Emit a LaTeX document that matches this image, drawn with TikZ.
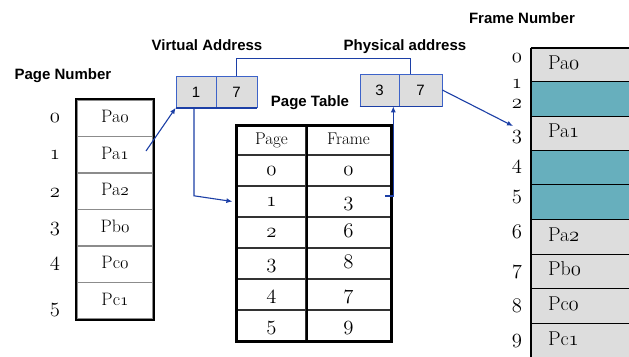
\documentclass[tikz,border=0pt]{standalone}
\usepackage{fontspec}
\newfontfamily\arial{Liberation Sans}
\usetikzlibrary{arrows.meta}
\definecolor{cellgray}{HTML}{DDDDDD}
\definecolor{freeteal}{HTML}{67AFBD}
\definecolor{linkblue}{HTML}{1C3FA6}
\definecolor{boxblue}{HTML}{3D63C9}
% old-style digits from Latin Modern math italic (regular and bold)
\newcommand\osd[1]{{\usefont{OML}{lmm}{m}{it}#1}}
\newcommand\osb[1]{{\usefont{OML}{lmm}{b}{it}#1}}
\newcommand\rowstrut{\vphantom{Pg}}
\begin{document}
\begin{tikzpicture}[x=1pt,y=-1pt,
  lbl/.style={font=\arial\bfseries\fontsize{15}{18}\selectfont, inner sep=0pt},
  lcell/.style={draw=black!45, line width=1.5pt, minimum width=76pt, minimum height=36.5pt, inner sep=0pt, font=\fontsize{18}{20}\selectfont},
  rowno/.style={anchor=base, inner sep=0pt, font=\fontsize{21}{24}\selectfont},
  tcell/.style={draw=black!80, line width=1.2pt, minimum height=31pt, inner sep=0pt, font=\fontsize{20}{22}\selectfont},
  thead/.style={tcell, minimum height=29pt, font=\fontsize{17}{20}\selectfont},
  addr/.style={draw=boxblue, fill=cellgray, line width=0.6pt, minimum height=31pt, inner sep=0pt, font=\arial\fontsize{15}{18}\selectfont},
  fcell/.style={draw=black, line width=0.8pt, fill=cellgray, text width=75pt, inner xsep=17pt, inner ysep=0pt, align=left, font=\fontsize{20}{22}\selectfont},
  free/.style={fcell, fill=freeteal},
  frameno/.style={anchor=base, inner sep=0pt, font=\fontsize{20}{22}\selectfont},
  link/.style={draw=linkblue, line width=1.1pt},
  arr/.style={link, -{Latex[length=6pt,width=5pt]}}
]
\useasboundingbox (0,0) rectangle (629,356);
\clip (0,0) rectangle (629,356);
\fill[white] (0,0) rectangle (629,356);

% ---- logical pages of the processes ----
\node[lbl] (pn) at (63,76) {Page Number};
\node[lcell] (L0) at (115,118.25) {\rowstrut Pa\osd{0}};
\node[lcell] (L1) at (115,154.75) {\rowstrut Pa\osd{1}};
\node[lcell] (L2) at (115,191.25) {\rowstrut Pa\osd{2}};
\node[lcell] (L3) at (115,227.75) {\rowstrut Pb\osd{0}};
\node[lcell] (L4) at (115,264.25) {\rowstrut Pc\osd{0}};
\node[lcell] (L5) at (115,300.75) {\rowstrut Pc\osd{1}};
\draw[line width=2pt] (L0.north west) rectangle (L5.south east);
\node[rowno] (n0) at (55,122) {\osb{0}};
\node[rowno] (n1) at (55,159) {\osb{1}};
\node[rowno] (n2) at (55,197) {\osb{2}};
\node[rowno] (n3) at (55,231) {\osb{3}};
\node[rowno] (n4) at (55,266) {\osb{4}};
\node[rowno] (n5) at (55,312) {\osb{5}};

% ---- virtual address ----
\node[lbl] (vlab) at (207,45) {Virtual Address};
\node[addr, minimum width=40pt] (V1) at (196,92) {1};
\node[addr, minimum width=41pt] (V2) at (236.5,92) {7};
\draw[linkblue, line width=1.6pt] (V1.south west) -- (V2.south east);

% ---- physical address ----
\node[lbl] (plab) at (405,47) {Physical address};
\node[addr, minimum width=39pt, minimum height=32pt] (P1) at (379.5,90) {3};
\node[addr, minimum width=43pt, minimum height=32pt] (P2) at (420.5,90) {7};
\draw[linkblue, line width=1.6pt] (P1.south west) -- (P2.south east);

% ---- page table ----
\node[lbl] (ptlab) at (310,103) {Page Table};
\node[thead, minimum width=69pt] (hP) at (271.5,140.5) {\rowstrut Page};
\node[thead, minimum width=85pt] (hF) at (348.5,140.5) {\rowstrut Frame};
\foreach \i/\f/\y in {0/0/170.5, 1/3/201.5, 2/6/232.5, 3/8/263.5, 4/7/294.5, 5/9/325.5} {
  \node[tcell, minimum width=69pt] (tp\i) at (271.5,\y) {\rowstrut\osb{\i}};
  \node[tcell, minimum width=85pt] (tf\i) at (348.5,\y) {\rowstrut\osd{\f}};
}
\draw[line width=2.5pt] (hP.north west) rectangle (tf5.south east);
\draw[line width=2pt] (hP.north east) -- (tp5.south east);

% ---- physical memory frames ----
\node[lbl] (fn) at (522,18) {Frame Number};
\node[fcell, minimum height=33pt] (R0) at (585.5,64.5) {\rowstrut Pa\osd{0}};
\node[free, minimum height=35pt] (R12) at (585.5,98.5) {};
\node[fcell, minimum height=34pt] (R3) at (585.5,133) {\rowstrut Pa\osd{1}};
\node[free, minimum height=34pt] (R4) at (585.5,167) {};
\node[free, minimum height=35pt] (R5) at (585.5,201.5) {};
\node[fcell, minimum height=35pt] (R6) at (585.5,236.5) {\rowstrut Pa\osd{2}};
\node[fcell, minimum height=34pt] (R7) at (585.5,271) {\rowstrut Pb\osd{0}};
\node[fcell, minimum height=35pt] (R8) at (585.5,305.5) {\rowstrut Pc\osd{0}};
\node[fcell, minimum height=35pt] (R9) at (585.5,340.5) {\rowstrut Pc\osd{1}};
\draw[line width=2pt] (R0.north west) -- (R9.south west);
\draw[line width=1.5pt] (R0.north west) -- (R0.north east);
\foreach \k/\b in {0/62,1/88,2/108,3/139,4/169,5/199,6/238,7/274,8/312,9/343}
  \node[frameno] (N\k) at (517,\b) {\osb{\k}};

% ---- translation path ----
\coordinate (pa1tip) at (146,151);
\coordinate (f1tip) at (385,196);
\draw[arr] (pa1tip) -- (V1.south west);
\draw[link] (V2.north) -- ++(0,-18) -| ([xshift=-10pt]P2.north);
\draw[arr] ([xshift=-2pt]V1.south) -- ++(0,88) -- ([xshift=-4pt]tp1.west);
\draw[arr] (f1tip) -| ([xshift=-6pt]P1.south east);
\draw[arr] (P2.east) -- ([xshift=-4pt,yshift=13pt]N3.base);
\end{tikzpicture}
\end{document}
